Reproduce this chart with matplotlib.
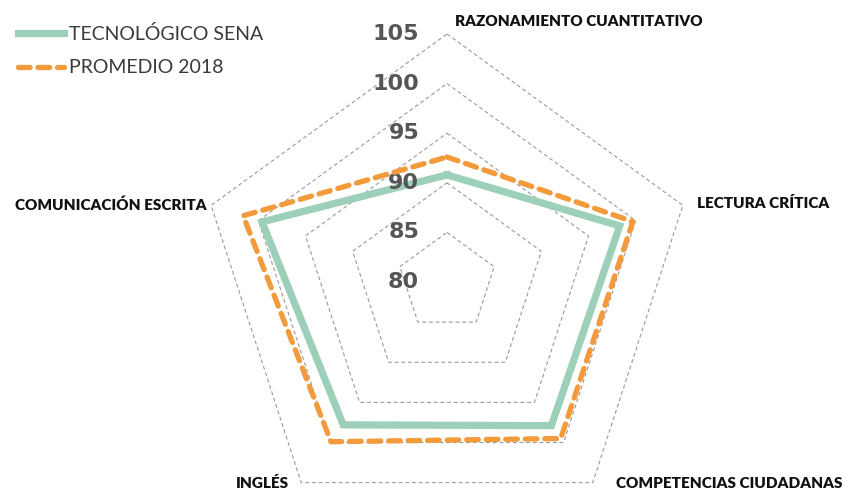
import numpy as np
import matplotlib
matplotlib.use("Agg")
import matplotlib.pyplot as plt

categorias = ["RAZONAMIENTO CUANTITATIVO", "LECTURA CRÍTICA", "COMPETENCIAS CIUDADANAS",
              "INGLÉS", "COMUNICACIÓN ESCRITA"]
sena = [90.8, 98.3, 97.9, 97.8, 99.6]
promedio = [92.6, 99.7, 99.5, 99.9, 101.6]
niveles = [85, 90, 95, 100, 105]
etiquetas_nivel = [80, 85, 90, 95, 100, 105]

W, H = 848, 491
cx, cy, R = 447, 282, 248  # pixel centre and outer radius

fig = plt.figure(figsize=(W / 100, H / 100), dpi=100)
ax = fig.add_axes([(cx - R) / W, (H - cy - R) / H, 2 * R / W, 2 * R / H], projection="polar")
ax.set_theta_zero_location("N")
ax.set_theta_direction(-1)
ax.set_rlim(80, 105)
ax.grid(False)
ax.set_xticks([])
ax.set_yticks([])
ax.spines["polar"].set_visible(False)
ax.patch.set_visible(False)

theta = np.linspace(0, 2 * np.pi, len(categorias), endpoint=False)
theta_c = np.append(theta, theta[0])

# dashed pentagon rings
for lvl in niveles:
    ax.plot(theta_c, [lvl] * len(theta_c), color="#9a9a9a", lw=0.8,
            ls=(0, (3.5, 2.5)), clip_on=False, zorder=1)

l1, = ax.plot(theta_c, sena + sena[:1], color="#9dd0b8", lw=5.2,
              solid_joinstyle="miter", clip_on=False, zorder=3,
              label="TECNOLÓGICO SENA")
l2, = ax.plot(theta_c, promedio + promedio[:1], color="#f39a3b", lw=3.8,
              ls=(0, (2.2, 1.5)), dash_capstyle="round", clip_on=False, zorder=4,
              label="PROMEDIO 2018")

# level labels, left of the top axis
for v in etiquetas_nivel:
    ax.annotate(str(v), xy=(0, v), xytext=(-20, 0), textcoords="offset points",
                ha="right", va="center", fontsize=16, fontweight="bold",
                color="#555555", family="DejaVu Sans", annotation_clip=False)

# category labels
lab_pos = [(455, 22, "left"), (697, 203, "left"), (616, 483, "left"),
           (289, 483, "right"), (207, 205, "right")]
for (x, y, ha), txt in zip(lab_pos, categorias):
    fig.text(x / W, 1 - y / H, txt, ha=ha, va="center", fontsize=11,
             fontweight="heavy", color="#111111", family="Lato")

leg = fig.legend(handles=[l1, l2], loc="upper left", bbox_to_anchor=(0.0, 0.985),
                 frameon=False, prop={"family": "Lato", "size": 14},
                 handlelength=2.4, handletextpad=0.25, labelspacing=0.85)
for t in leg.get_texts():
    t.set_color("#3a3a3a")

fig.savefig("out.png", dpi=100)
